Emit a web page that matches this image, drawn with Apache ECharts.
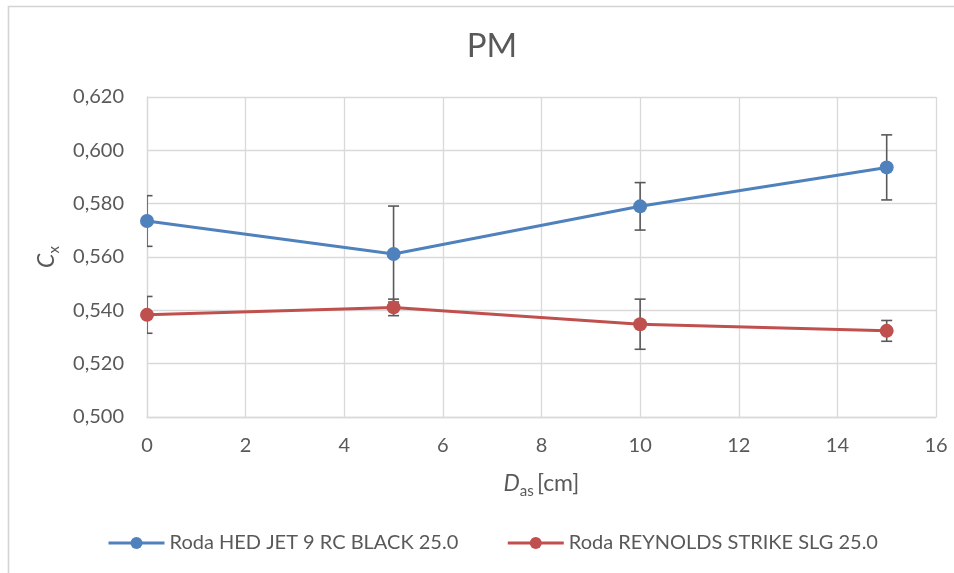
<!DOCTYPE html>
<html>
<head>
<meta charset="utf-8">
<script src="https://cdn.jsdelivr.net/npm/echarts@6/dist/echarts.min.js"></script>
<style>html,body{margin:0;padding:0;background:#fff}#c{width:954px;height:573px}</style>
</head>
<body>
<div id="c"></div>
<script>
const xValues = [0, 5, 10, 15];
const hedValues = [0.5735, 0.5611, 0.5790, 0.5936];
const hedErr = [0.0095, 0.0180, 0.0089, 0.0122];
const reyValues = [0.5383, 0.5411, 0.5348, 0.5323];
const reyErr = [0.0069, 0.0031, 0.0094, 0.0039];
const seriesNames = ['Roda HED JET 9 RC BLACK 25.0', 'Roda REYNOLDS STRIKE SLG 25.0'];

const FONT = 'Lato';
const TXT = '#595959';
const GRID = '#d9d9d9';

function pts(xs, ys) { return xs.map((x, i) => [x, ys[i]]); }
function errData(xs, ys, es) { return xs.map((x, i) => [x, ys[i] - es[i], ys[i] + es[i]]); }

function errRender(params, api) {
  const x = api.value(0);
  const lo = api.coord([x, api.value(1)]);
  const hi = api.coord([x, api.value(2)]);
  const w = 5.5;
  const st = { stroke: '#595959', lineWidth: 1.6 };
  return {
    type: 'group',
    children: [
      { type: 'line', shape: { x1: lo[0], y1: lo[1], x2: hi[0], y2: hi[1] }, style: st },
      { type: 'line', shape: { x1: lo[0] - w, y1: lo[1], x2: lo[0] + w, y2: lo[1] }, style: st },
      { type: 'line', shape: { x1: hi[0] - w, y1: hi[1], x2: hi[0] + w, y2: hi[1] }, style: st }
    ]
  };
}

const chart = echarts.init(document.getElementById('c'), null, { renderer: 'canvas' });
chart.setOption({
  animation: false,
  backgroundColor: '#fff',
  textStyle: { fontFamily: FONT, color: TXT },
  graphic: [{
    type: 'rect', silent: true,
    shape: { x: 8.5, y: 6.5, width: 1000, height: 1000 },
    style: { fill: 'none', stroke: '#d4d4d4', lineWidth: 1.6 }
  }],
  title: {
    text: 'PM', left: 487, top: 25, textAlign: 'center',
    textStyle: { fontFamily: FONT, fontSize: 33, fontWeight: 'normal', color: TXT }
  },
  legend: {
    left: 102, top: 528,
    itemWidth: 56, itemHeight: 15, itemGap: 48,
    lineStyle: { width: 3 },
    textStyle: { fontFamily: FONT, fontSize: 20, color: TXT },
    data: seriesNames
  },
  grid: { left: 147, right: 18, top: 97, bottom: 156, containLabel: false },
  xAxis: {
    type: 'value', min: 0, max: 16, interval: 2,
    axisLine: { show: true, lineStyle: { color: GRID, width: 1.3 } },
    axisTick: { show: false },
    splitLine: { show: true, lineStyle: { color: GRID, width: 1.3 } },
    axisLabel: { fontFamily: FONT, fontSize: 20, color: TXT, margin: 19 },
    name: '{i|D}{s|as} {n|[cm]}',
    nameLocation: 'middle', nameGap: 51,
    nameTextStyle: {
      rich: {
        i: { fontFamily: FONT, fontSize: 23, fontStyle: 'italic', color: TXT, lineHeight: 32 },
        s: { fontFamily: FONT, fontSize: 15, color: TXT, lineHeight: 15, padding: [15, 0, 0, 0] },
        n: { fontFamily: FONT, fontSize: 23, color: TXT, lineHeight: 32 }
      }
    }
  },
  yAxis: {
    type: 'value', min: 0.5, max: 0.62, interval: 0.02,
    axisLine: { show: true, lineStyle: { color: GRID, width: 1.3 } },
    axisTick: { show: false },
    splitLine: { show: true, lineStyle: { color: GRID, width: 1.3 } },
    axisLabel: {
      fontFamily: FONT, fontSize: 20, color: TXT, margin: 23,
      formatter: v => v.toFixed(3).replace('.', ',')
    },
    name: '{i|C}{s|x}',
    nameLocation: 'middle', nameGap: 84, nameRotate: 90,
    nameTextStyle: {
      rich: {
        i: { fontFamily: FONT, fontSize: 23, fontStyle: 'italic', color: TXT, lineHeight: 32 },
        s: { fontFamily: FONT, fontSize: 15, color: TXT, lineHeight: 15, padding: [15, 0, 0, 0] }
      }
    }
  },
  series: [
    {
      name: seriesNames[0], type: 'line', data: pts(xValues, hedValues), z: 3,
      symbol: 'circle', symbolSize: 14,
      lineStyle: { color: '#4F81BD', width: 3 },
      itemStyle: { color: '#4F81BD' }
    },
    {
      name: seriesNames[1], type: 'line', data: pts(xValues, reyValues), z: 3,
      symbol: 'circle', symbolSize: 14,
      lineStyle: { color: '#C0504D', width: 3 },
      itemStyle: { color: '#C0504D' }
    },
    {
      type: 'custom', name: 'errHed', z: 2, clip: true, silent: true,
      renderItem: errRender, data: errData(xValues, hedValues, hedErr)
    },
    {
      type: 'custom', name: 'errRey', z: 2, clip: true, silent: true,
      renderItem: errRender, data: errData(xValues, reyValues, reyErr)
    }
  ]
});
</script>
</body>
</html>
